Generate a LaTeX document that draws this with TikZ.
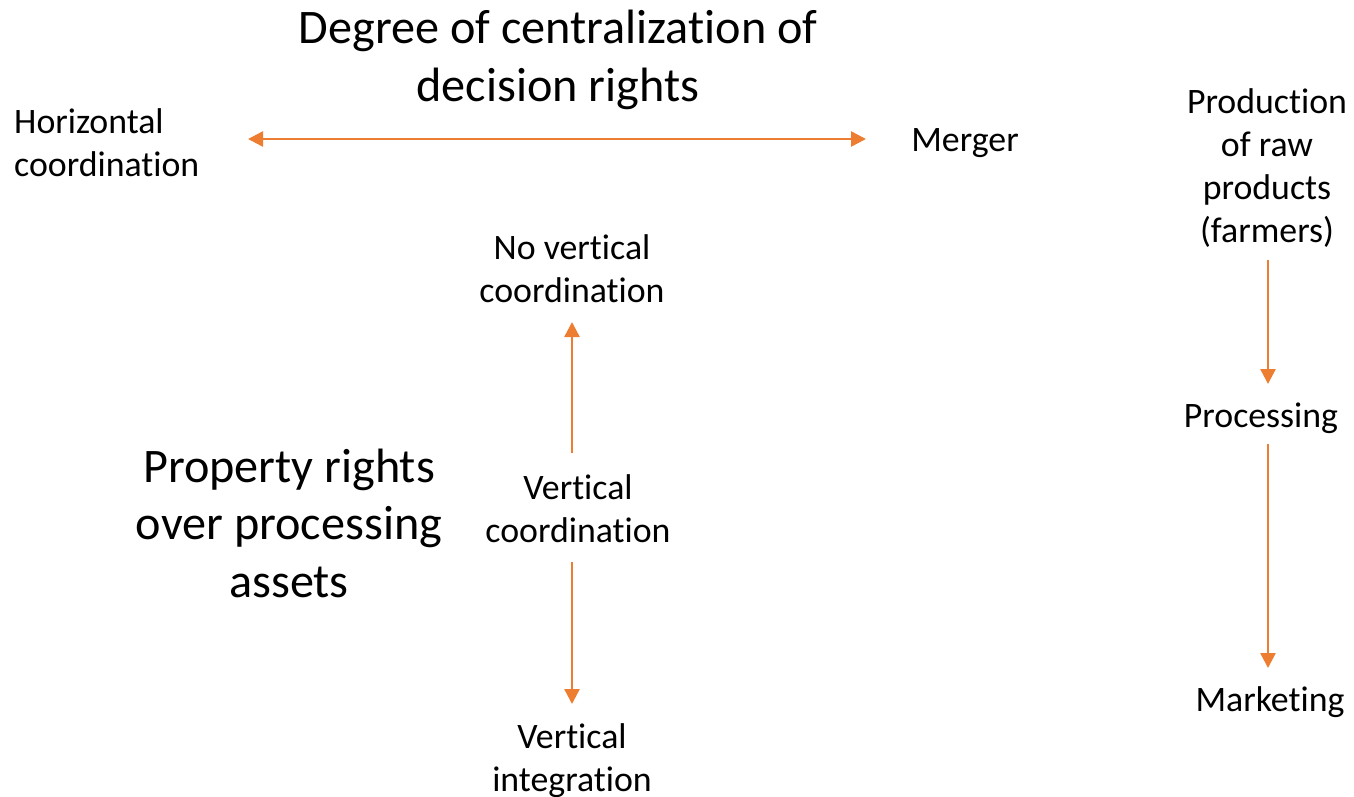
\documentclass[tikz,border=0pt]{standalone}
\usepackage{fontspec}
\setmainfont{Carlito}[Ligatures=NoCommon]
\usetikzlibrary{arrows.meta}
\definecolor{accent}{HTML}{ED7D31}
\begin{document}
\begin{tikzpicture}[x=1pt,y=-1pt,
  body/.style={align=center,inner sep=0pt,font=\fontsize{35.8}{43}\selectfont},
  big/.style={align=center,inner sep=0pt,font=\fontsize{48.2}{57.5}\selectfont},
  link/.style={draw=accent,line width=2.5pt,-{Triangle[length=15pt,width=15pt]}},
  both/.style={draw=accent,line width=2.5pt,{Triangle[length=15pt,width=15pt]}-{Triangle[length=15pt,width=15pt]}}]
\useasboundingbox (0,0) rectangle (1354,796);

% horizontal axis
\node[big] (title) at (558,60) {Degree of centralization of\\decision rights};
\node[body,align=left,anchor=west] (horiz) at (14,143) {Horizontal\\coordination};
\node[body] (merger) at (965,143) {Merger};
\coordinate (hl) at (248,139);
\coordinate (hr) at (866,139);
\draw[both] (hl) -- (hr);

% vertical axis
\node[big] (prop) at (289,523) {Property rights\\over processing\\assets};
\node[body] (novert) at (572,269) {No vertical\\coordination};
\node[body] (vert) at (578,509) {Vertical\\coordination};
\node[body] (integ) at (572,761) {Vertical\\integration};
\coordinate (vup) at (572,322);
\coordinate (vupst) at (572,453);
\coordinate (vdnst) at (572,562);
\coordinate (vdn) at (572,704);
\draw[link] (vupst) -- (vup);
\draw[link] (vdnst) -- (vdn);

% supply chain
\node[body] (prod) at (1267,168) {Production\\of raw\\products\\(farmers)};
\node[body] (proc) at (1261,418) {Processing};
\node[body] (mark) at (1270,702) {Marketing};
\coordinate (a1) at (1268,260);
\coordinate (a2) at (1268,384);
\coordinate (b1) at (1268,444);
\coordinate (b2) at (1268,668);
\draw[link] (a1) -- (a2);
\draw[link] (b1) -- (b2);
\end{tikzpicture}
\end{document}
